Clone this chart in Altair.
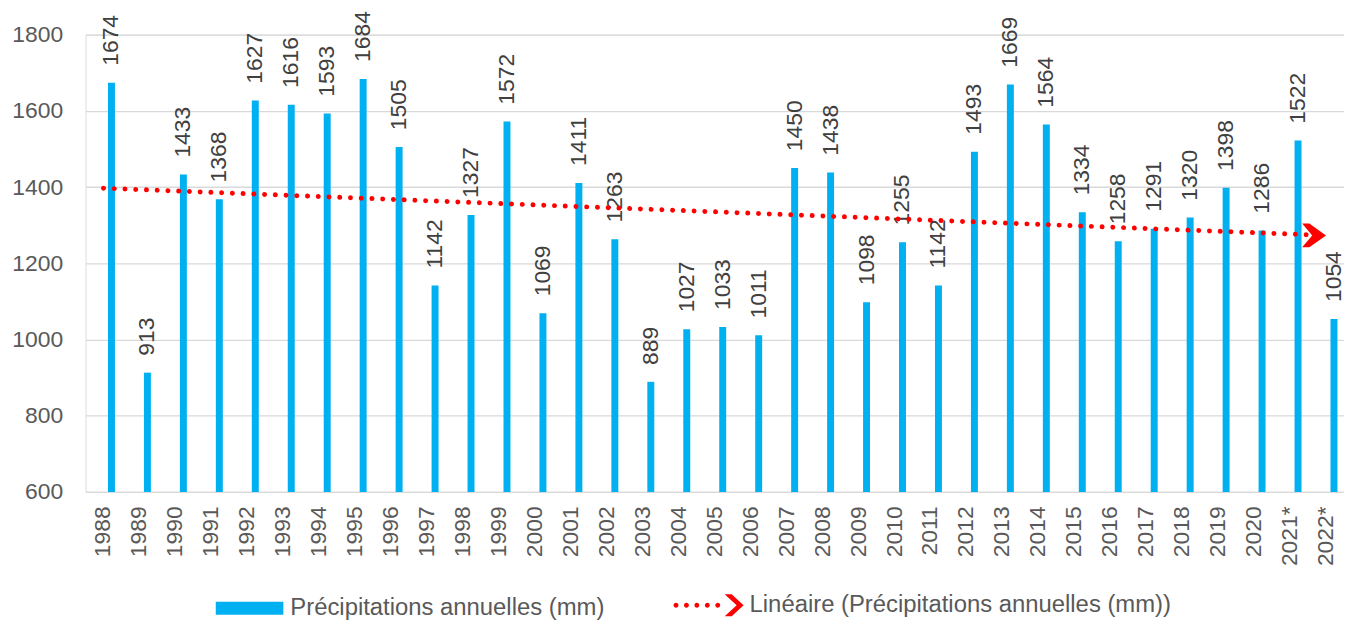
import altair as alt
import pandas as pd

years = ["1988", "1989", "1990", "1991", "1992", "1993", "1994", "1995", "1996", "1997",
         "1998", "1999", "2000", "2001", "2002", "2003", "2004", "2005", "2006", "2007",
         "2008", "2009", "2010", "2011", "2012", "2013", "2014", "2015", "2016", "2017",
         "2018", "2019", "2020", "2021*", "2022*"]
precip = [1674, 913, 1433, 1368, 1627, 1616, 1593, 1684, 1505, 1142,
          1327, 1572, 1069, 1411, 1263, 889, 1027, 1033, 1011, 1450,
          1438, 1098, 1255, 1142, 1493, 1669, 1564, 1334, 1258, 1291,
          1320, 1398, 1286, 1522, 1054]
y_ticks = [600, 800, 1000, 1200, 1400, 1600, 1800]
series_name = "Précipitations annuelles (mm)"
trend_name = "Linéaire (Précipitations annuelles (mm))"

df = pd.DataFrame({
    "year": years,
    "value": precip,
    "i": list(range(len(years))),
    "s": [series_name] * len(years),
})
index_lookup = [{"i": k, "year": y} for k, y in enumerate(years)]

FONT = "Liberation Sans"
BLUE = "#00B0F0"
RED = "#FF0000"
AXIS_GREY = "#595959"
LABEL_GREY = "#404040"
GRID = "#D9D9D9"

BAR_SYMBOL = "M-1,-0.19H1V0.19H-1Z"
TREND_SYMBOL = (
    "M-1.013,0a0.07,0.07 0 1,0 0.14,0a0.07,0.07 0 1,0 -0.14,0Z"
    "M-0.713,0a0.07,0.07 0 1,0 0.14,0a0.07,0.07 0 1,0 -0.14,0Z"
    "M-0.413,0a0.07,0.07 0 1,0 0.14,0a0.07,0.07 0 1,0 -0.14,0Z"
    "M-0.113,0a0.07,0.07 0 1,0 0.14,0a0.07,0.07 0 1,0 -0.14,0Z"
    "M0.187,0a0.07,0.07 0 1,0 0.14,0a0.07,0.07 0 1,0 -0.14,0Z"
    "M0.457,-0.314L0.657,-0.314L1,0L0.657,0.314L0.457,0.314L0.8,0Z"
)
ARROW_SHAPE = "M-1,-0.5L-0.7,-0.5L0,0L-0.7,0.5L-1,0.5L-0.58,0Z"

x_enc = alt.X(
    "year:N", sort=years,
    scale=alt.Scale(paddingInner=0, paddingOuter=0),
    axis=alt.Axis(title=None, labelAngle=270, labelFontSize=23, labelColor=AXIS_GREY,
                  labelFont=FONT, labelPadding=14, ticks=False, grid=False,
                  domainColor=GRID, domainWidth=1.3),
)
y_enc = alt.Y(
    "value:Q",
    scale=alt.Scale(domain=[600, 1800], nice=False, zero=False),
    axis=alt.Axis(title=None, values=y_ticks, format="d", labelFontSize=23,
                  labelColor=AXIS_GREY, labelFont=FONT, labelPadding=23, ticks=False,
                  domain=False, gridColor=GRID, gridWidth=1.3),
)

base = alt.Chart(df)

bars = base.mark_bar(size=7, xOffset=8).encode(
    x=x_enc,
    y=y_enc,
    y2=alt.datum(600),
    color=alt.Color(
        "s:N", scale=alt.Scale(range=[BLUE]),
        legend=alt.Legend(orient="none", legendX=131, legendY=543, title=None,
                          symbolType=BAR_SYMBOL, symbolSize=4624, symbolStrokeWidth=0,
                          labelFontSize=24, labelColor=AXIS_GREY, labelFont=FONT,
                          labelOffset=7, labelLimit=0),
    ),
)

labels = base.mark_text(angle=270, align="left", baseline="middle", dx=17, xOffset=8,
                        fontSize=23, color=LABEL_GREY, font=FONT).encode(
    x=alt.X("year:N", sort=years),
    y=alt.Y("value:Q"),
    text=alt.Text("value:Q", format="d"),
)

trend = (
    base.transform_regression("i", "value", method="linear")
    .transform_lookup(lookup="i",
                      from_=alt.LookupData(data=alt.InlineData(values=index_lookup),
                                           key="i", fields=["year"]))
    .transform_calculate(t="'" + trend_name + "'")
)

trend_line = trend.mark_line(color=RED, strokeWidth=5, strokeDash=[0.01, 10.8],
                             strokeCap="round").encode(
    x=alt.X("year:N", sort=years),
    y=alt.Y("value:Q"),
)

arrow = trend.transform_filter("datum.i > 33").mark_point(
    shape=ARROW_SHAPE, size=2304, filled=True, opacity=1, strokeWidth=0
).encode(
    x=alt.X("year:N", sort=years),
    y=alt.Y("value:Q"),
    color=alt.Color(
        "t:N", scale=alt.Scale(range=[RED]),
        legend=alt.Legend(orient="none", legendX=592, legendY=539, title=None,
                          symbolType=TREND_SYMBOL, symbolSize=4900, symbolStrokeWidth=0,
                          labelFontSize=24, labelColor=AXIS_GREY, labelFont=FONT,
                          labelOffset=6, labelLimit=0),
    ),
)

chart = (
    alt.layer(bars, labels, trend_line, arrow)
    .resolve_scale(color="independent")
    .properties(width=1266, height=460,
                padding={"left": 78, "top": 25, "right": 0, "bottom": 128},
                autosize=alt.AutoSizeParams(type="none"))
    .configure_view(stroke=None)
    .configure(font=FONT)
)

chart.save("out.html", embed_options={"renderer": "svg", "actions": False})
